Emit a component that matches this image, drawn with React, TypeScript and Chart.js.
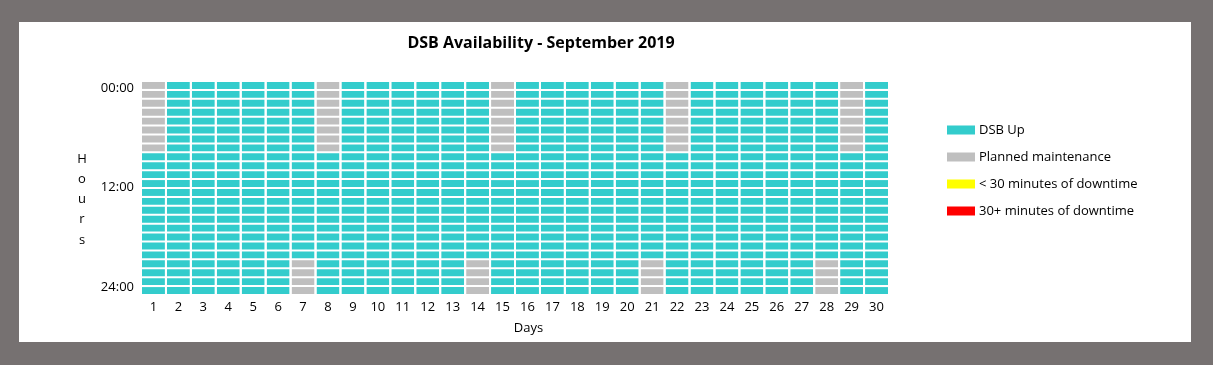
import React, { useEffect, useRef } from "react";
import { Chart, registerables } from "chart.js";

Chart.register(...registerables);

// ---- Data ----
const titleText = "DSB Availability - September 2019";
const dayLabels = ["1","2","3","4","5","6","7","8","9","10","11","12","13","14","15","16","17","18","19","20","21","22","23","24","25","26","27","28","29","30"];
const hourCount = 24;
// U = DSB Up, M = Planned maintenance, Y = <30 min downtime, R = 30+ min downtime (one char per hour 00..23)
const UP_DAY = "UUUUUUUUUUUUUUUUUUUUUUUU";
const MORNING_MAINT = "MMMMMMMMUUUUUUUUUUUUUUUU";
const EVENING_MAINT = "UUUUUUUUUUUUUUUUUUUUMMMM";
const statusByDay = [
  MORNING_MAINT, UP_DAY, UP_DAY, UP_DAY, UP_DAY, UP_DAY, EVENING_MAINT,
  MORNING_MAINT, UP_DAY, UP_DAY, UP_DAY, UP_DAY, UP_DAY, EVENING_MAINT,
  MORNING_MAINT, UP_DAY, UP_DAY, UP_DAY, UP_DAY, UP_DAY, EVENING_MAINT,
  MORNING_MAINT, UP_DAY, UP_DAY, UP_DAY, UP_DAY, UP_DAY, EVENING_MAINT,
  MORNING_MAINT, UP_DAY,
];
const yTickValues = [0.8, 11.9, 23.1];
const yTickLabels = ["00:00", "12:00", "24:00"];
const legendKeys = ["U", "M", "Y", "R"];
const legendLabels = ["DSB Up", "Planned maintenance", "< 30 minutes of downtime", "30+ minutes of downtime"];
const statusColors: Record<string, string> = {
  U: "#33CCCC",
  M: "#BFBFBF",
  Y: "#FFFF00",
  R: "#FF0000",
};
const xTitle = "Days";
const yTitleLetters = ["H", "o", "u", "r", "s"];

const FONT = "'Open Sans', 'Liberation Sans', sans-serif";

const overlayPlugin = {
  id: "overlay",
  afterDraw(chart: any) {
    const ctx = chart.ctx as CanvasRenderingContext2D;
    const area = chart.chartArea;
    ctx.save();
    ctx.fillStyle = "#000";
    // Title
    ctx.font = `bold 16px ${FONT}`;
    ctx.textAlign = "center";
    ctx.textBaseline = "middle";
    ctx.fillText(titleText, area.left + 400, 21);
    // X title
    ctx.font = `13px ${FONT}`;
    ctx.fillText(xTitle, area.left + 387.5, area.bottom + 33);
    // Y title (stacked letters)
    yTitleLetters.forEach((ch, i) => {
      ctx.fillText(ch, 63, 137 + i * 20.2);
    });
    // Legend
    ctx.textAlign = "left";
    legendKeys.forEach((k, i) => {
      const cy = 108 + i * 27;
      ctx.fillStyle = statusColors[k];
      ctx.fillRect(area.right + 58, cy - 4.5, 28, 9);
      ctx.fillStyle = "#000";
      ctx.fillText(legendLabels[i], area.right + 90, cy);
    });
    ctx.restore();
  },
};

export default function App() {
  const ref = useRef<HTMLCanvasElement>(null);
  useEffect(() => {
    if (!ref.current) return;
    const datasets = Array.from({ length: hourCount }, (_, h) => ({
      label: `Hour ${h}`,
      data: dayLabels.map(() => 1),
      backgroundColor: statusByDay.map((s) => statusColors[s[h]]),
      borderColor: "#FFFFFF",
      borderWidth: { top: 1, bottom: 1, left: 0, right: 0 },
      borderSkipped: false,
      barPercentage: 0.92,
      categoryPercentage: 1,
    }));
    const chart = new Chart(ref.current, {
      type: "bar",
      data: { labels: dayLabels, datasets },
      plugins: [overlayPlugin],
      options: {
        animation: false,
        responsive: false,
        maintainAspectRatio: false,
        events: [],
        layout: { padding: { top: 59, right: 302, bottom: 0, left: 0 } },
        plugins: {
          legend: { display: false },
          title: { display: false },
          tooltip: { enabled: false },
        },
        scales: {
          x: {
            stacked: true,
            grid: { display: false, drawTicks: false },
            border: { display: false },
            ticks: {
              autoSkip: false,
              maxRotation: 0,
              padding: 4,
              color: "#000",
              font: { family: FONT, size: 13 },
            },
            afterFit: (s: any) => {
              s.height = 47;
            },
          },
          y: {
            stacked: true,
            reverse: true,
            min: 0,
            max: hourCount,
            grid: { display: false, drawTicks: false },
            border: { display: false },
            afterBuildTicks: (s: any) => {
              s.ticks = yTickValues.map((v) => ({ value: v }));
            },
            ticks: {
              padding: 7,
              color: "#000",
              font: { family: FONT, size: 13 },
              callback: (_v: any, i: number) => yTickLabels[i],
            },
            afterFit: (s: any) => {
              s.width = 122;
            },
          },
        },
      },
    });
    return () => chart.destroy();
  }, []);

  return (
    <div style={{ position: "fixed", left: 0, top: 0, width: 1213, height: 365, background: "#767171" }}>
      <div style={{ position: "absolute", left: 19, top: 22, width: 1172, height: 320, background: "#FFFFFF" }}>
        <canvas ref={ref} width={1172} height={320} style={{ display: "block", width: 1172, height: 320 }} />
      </div>
    </div>
  );
}
